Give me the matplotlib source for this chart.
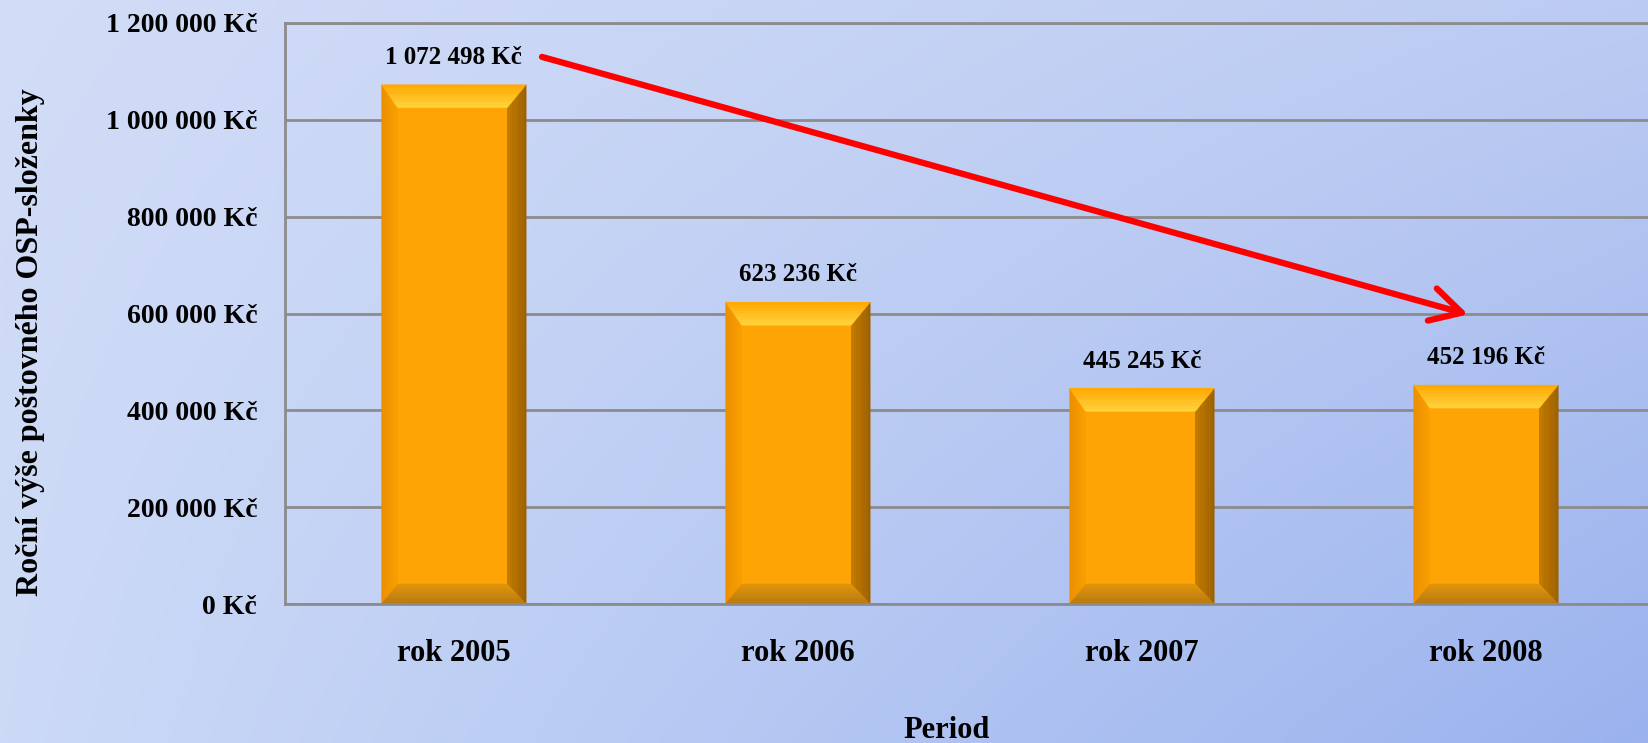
import numpy as np
import matplotlib
matplotlib.use('Agg')
import matplotlib.pyplot as plt
from matplotlib.patches import Polygon
from matplotlib.colors import to_rgb

# ---- data ----
categories = ['rok 2005', 'rok 2006', 'rok 2007', 'rok 2008']
values = [1072498, 623236, 445245, 452196]
value_labels = ['1 072 498 Kč', '623 236 Kč', '445 245 Kč', '452 196 Kč']
y_ticks = [0, 200000, 400000, 600000, 800000, 1000000, 1200000]
y_tick_labels = ['0 Kč', '200 000 Kč', '400 000 Kč', '600 000 Kč',
                 '800 000 Kč', '1 000 000 Kč', '1 200 000 Kč']
y_label = 'Roční výše poštovného OSP-složenky'
x_label = 'Period'

plt.rcParams['font.family'] = ['Liberation Serif', 'DejaVu Serif']
plt.rcParams['font.weight'] = 'bold'

W, H = 1648, 743
fig = plt.figure(figsize=(W / 100, H / 100), dpi=100)

# background gradient
bg = fig.add_axes([0, 0, 1, 1], zorder=-10)
tl = np.array([210, 221, 247]) / 255
tr = np.array([188, 203, 242]) / 255
bl = np.array([204, 218, 247]) / 255
br = np.array([154, 178, 238]) / 255
gy, gx = np.mgrid[0:1:100j, 0:1:200j]
img = ((1 - gx)[..., None] * (1 - gy)[..., None] * tl + gx[..., None] * (1 - gy)[..., None] * tr
       + (1 - gx)[..., None] * gy[..., None] * bl + gx[..., None] * gy[..., None] * br)
bg.imshow(img, aspect='auto', extent=[0, 1, 0, 1], origin='upper', interpolation='bilinear')
bg.axis('off')

ax = fig.add_axes([285 / W, 1 - 604 / H, 1 - 285 / W, (604 - 23) / H])
ax.set_facecolor('none')

face = '#FFA405'
x = np.arange(len(categories))
bars = ax.bar(x, values, width=0.42, color=face, zorder=3)
ax.set_xlim(-0.491, 3.471)
ax.set_ylim(0, 1200000)
ax.set_yticks(y_ticks, y_tick_labels)
ax.set_xticks(x, categories)
ax.tick_params(axis='y', length=0, pad=20, labelsize=20)
ax.tick_params(axis='x', length=0, pad=25, labelsize=22)
ax.yaxis.grid(True, color='#8C8C8C', lw=2)
ax.set_axisbelow(True)
for s in ['left', 'top', 'bottom']:
    ax.spines[s].set_color('#8C8C8C')
    ax.spines[s].set_linewidth(2)
ax.spines['bottom'].set_zorder(5)
ax.spines['right'].set_visible(False)

# bevel decoration derived from each bar's geometry
inv = ax.transData.inverted()


def strips(outer, inner, c0, c1, n=8):
    (o1, o2), (i1, i2) = outer, inner
    c0 = np.array(to_rgb(c0)); c1 = np.array(to_rgb(c1))
    for k in range(n):
        t0, t1 = k / n, (k + 1) / n
        p1 = o1 + (i1 - o1) * t0
        p2 = o2 + (i2 - o2) * t0
        p3 = o2 + (i2 - o2) * t1
        p4 = o1 + (i1 - o1) * t1
        col = c0 + (c1 - c0) * (t0 + t1) / 2
        pts = inv.transform(np.array([p1, p2, p3, p4]))
        ax.add_patch(Polygon(pts, closed=True, facecolor=col, edgecolor=col,
                             lw=0.3, zorder=4))


for b in bars:
    x0, y0 = b.get_x(), 0
    x1, y1 = b.get_x() + b.get_width(), b.get_height()
    (L, B) = ax.transData.transform((x0, y0))
    (R, T) = ax.transData.transform((x1, y1))
    tb, lb, rb, bb = 23, 16, 19, 20
    OTL, OTR = np.array([L, T]), np.array([R, T])
    OBL, OBR = np.array([L, B]), np.array([R, B])
    ITL, ITR = np.array([L + lb, T - tb]), np.array([R - rb, T - tb])
    IBL, IBR = np.array([L + lb, B + bb]), np.array([R - rb, B + bb])
    strips((OBL, OTL), (IBL, ITL), '#EA8E00', '#FAA000')      # left
    strips((OBR, OTR), (IBR, ITR), '#9C5F00', '#C27B00')      # right
    strips((OBL, OBR), (IBL, IBR), '#B57812', '#E0950A')      # bottom
    strips((OTL, OTR), (ITL, ITR), '#FFA800', '#FFD43E')      # top

for xi, v, lab in zip(x, values, value_labels):
    ax.annotate(lab, (xi, v), xytext=(0, 15), textcoords='offset points',
                ha='center', va='baseline', fontsize=18, zorder=6)

ax.annotate('', xy=(2.948, 598000), xytext=(0.256, 1130000),
            arrowprops=dict(arrowstyle='->,head_length=1.1,head_width=0.6',
                            color='#FF0000', lw=4.5, mutation_scale=20,
                            shrinkA=0, shrinkB=0), zorder=7)

fig.text(947 / W, 1 - 738 / H, x_label, ha='center', va='baseline', fontsize=22)
fig.text(31 / W, 1 - 342 / H, y_label, ha='center', va='center', rotation=90, fontsize=23)

fig.savefig('out.png', dpi=100)
